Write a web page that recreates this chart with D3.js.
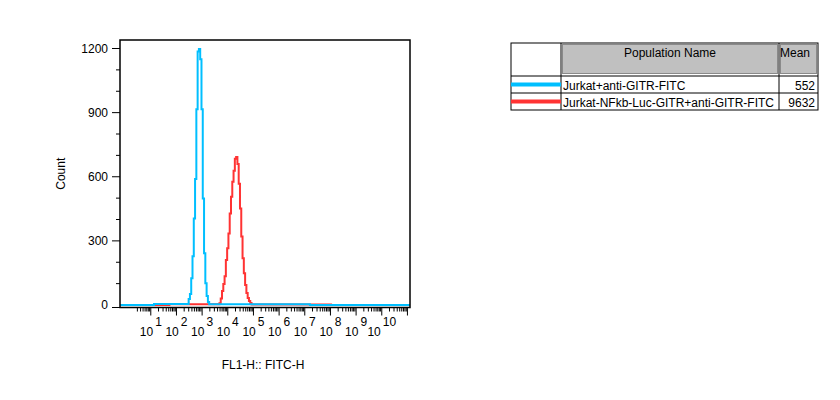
<!DOCTYPE html>
<html><head><meta charset="utf-8">
<script src="https://cdn.jsdelivr.net/npm/d3@7/dist/d3.min.js"></script>
<style>body{margin:0;background:#fff}svg{display:block}text{font-family:"Liberation Sans",Arial,sans-serif;fill:#000}</style>
</head><body><svg id="c" width="840" height="400"></svg>
<script>
// ---- data ----
const seriesNames = ["Jurkat+anti-GITR-FITC", "Jurkat-NFkb-Luc-GITR+anti-GITR-FITC"];
const seriesMeans = ["552", "9632"];
const seriesColors = ["#00BFFF", "#FF3333"];
// histogram bins: log10 position on the axis and count
const cyanLog = [2.45,2.50,2.55,2.60,2.65,2.70,2.75,2.80,2.85,2.90,2.95,3.00,3.05,3.10,3.15,3.20,3.25,3.30];
const cyanCount = [5,28,51,125,228,405,590,916,1186,1198,1150,916,498,242,102,42,14,3];
const redLog = [3.65,3.70,3.75,3.80,3.85,3.90,3.95,4.00,4.05,4.10,4.15,4.20,4.25,4.30,4.35,4.40,4.45,4.50,4.55,4.60,4.65,4.70,4.75,4.80,4.85,4.90,4.95];
const redCount = [3,8,30,65,98,135,210,265,335,428,507,577,628,684,692,660,567,451,321,219,149,93,56,33,19,9,2];
const yMajorTicks = [0,300,600,900,1200];
const yMinorTicks = [100,200,400,500,700,800,1000,1100];
const xDecades = [1,2,3,4,5,6,7,8,9,10];
const xLabel = "FL1-H:: FITC-H";
const yLabel = "Count";

// ---- layout ----
const svg = d3.select("#c");
const L = 120, R = 410, T = 40, B = 307.5, Z = 305;
const x = d3.scaleLog().domain([Math.pow(10,-0.2), Math.pow(10,11.1)]).range([L, R]);
const y = d3.scaleLinear().domain([0, 1200]).range([Z, 48.5]);

// histograms
function histPath(logs, counts) {
  const pts = [[x.domain()[0], 0]];
  logs.forEach((l, i) => pts.push([Math.pow(10, l), counts[i]]));
  pts.push([x.domain()[1], 0]);
  return d3.line().x(d => x(d[0])).y(d => y(d[1])).curve(d3.curveStep)(pts);
}
svg.append("path").attr("d", histPath(redLog, redCount)).attr("fill","none")
  .attr("stroke", seriesColors[1]).attr("stroke-width", 2);
svg.append("path").attr("d", histPath(cyanLog, cyanCount)).attr("fill","none")
  .attr("stroke", seriesColors[0]).attr("stroke-width", 2);

// frame
svg.append("rect").attr("x", L).attr("y", T).attr("width", R-L).attr("height", B-T)
  .attr("fill","none").attr("stroke","#000").attr("stroke-width",1.5);

// y axis
const yAx = svg.append("g");
yAx.selectAll("line.maj").data(yMajorTicks).join("line").attr("class","maj")
  .attr("x1", L-8).attr("x2", L).attr("y1", d=>d===0?B:y(d)).attr("y2", d=>d===0?B:y(d)).attr("stroke","#000");
yAx.selectAll("line.min").data(yMinorTicks).join("line").attr("class","min")
  .attr("x1", L-4).attr("x2", L).attr("y1", d=>y(d)).attr("y2", d=>y(d)).attr("stroke","#000");
yAx.selectAll("text").data(yMajorTicks).join("text")
  .attr("x", L-12).attr("y", d=>y(d)+4).attr("text-anchor","end").attr("font-size",12).text(d=>d);

// x axis ticks
const xt = [];
for (let k = 0; k <= 11; k++) for (let m = 1; m <= 9; m++) {
  const v = m * Math.pow(10, k);
  if (v >= 2.5 && v <= x.domain()[1]) xt.push({v, major: m === 1});
}
svg.append("g").selectAll("line").data(xt).join("line")
  .attr("x1", d=>x(d.v)).attr("x2", d=>x(d.v)).attr("y1", B).attr("y2", d=>B + (d.major?8:4))
  .attr("stroke","#000");
const xl = svg.append("g").selectAll("text").data(xDecades).join("text")
  .attr("x", d=>x(Math.pow(10,d))).attr("y", 336).attr("text-anchor","middle").attr("font-size",12);
xl.append("tspan").text("10");
xl.append("tspan").attr("dy",-10).attr("dx",2).text(d=>d);

// axis titles
svg.append("text").attr("x", (L+R)/2 - 2).attr("y", 369).attr("text-anchor","middle")
  .attr("font-size",12).text(xLabel);
svg.append("text").attr("transform","translate(65,"+((T+B)/2)+") rotate(-90)")
  .attr("text-anchor","middle").attr("font-size",12).text(yLabel);

// legend table
const tx = 511, c1 = 561, c2 = 779, tr = 818, ty = 43, h1 = 76, r1 = 93, r2 = 110;
const lg = svg.append("g");
lg.append("rect").attr("x", c1+1.5).attr("y", ty+1.5).attr("width", c2-c1-3).attr("height", h1-ty-4)
  .attr("fill","#C0C0C0").attr("stroke","#8a8a8a").attr("stroke-width",1);
lg.append("rect").attr("x", c2+1.5).attr("y", ty+1.5).attr("width", tr-c2-3).attr("height", h1-ty-4)
  .attr("fill","#C0C0C0").attr("stroke","#8a8a8a").attr("stroke-width",1);
lg.append("rect").attr("x", tx).attr("y", ty).attr("width", tr-tx).attr("height", r2-ty)
  .attr("fill","none").attr("stroke","#000");
[h1, r1].forEach(yy => lg.append("line").attr("x1", tx).attr("x2", tr).attr("y1", yy).attr("y2", yy).attr("stroke","#000"));
[c1, c2].forEach(xx => lg.append("line").attr("x1", xx).attr("x2", xx).attr("y1", ty).attr("y2", r2).attr("stroke","#000"));
lg.append("text").attr("x", (c1+c2)/2).attr("y", 57).attr("text-anchor","middle").attr("font-size",12).text("Population Name");
lg.append("text").attr("x", c2+1).attr("y", 57).attr("font-size",12).text("Mean");
const rows = [84.5, 101.5];
seriesNames.forEach((n, i) => {
  lg.append("line").attr("x1", tx).attr("x2", c1).attr("y1", rows[i]).attr("y2", rows[i])
    .attr("stroke", seriesColors[i]).attr("stroke-width", 4);
  lg.append("text").attr("x", c1+2).attr("y", rows[i]+5).attr("font-size",12).text(n);
  lg.append("text").attr("x", tr-3).attr("y", rows[i]+5).attr("text-anchor","end").attr("font-size",12).text(seriesMeans[i]);
});
</script></body></html>
